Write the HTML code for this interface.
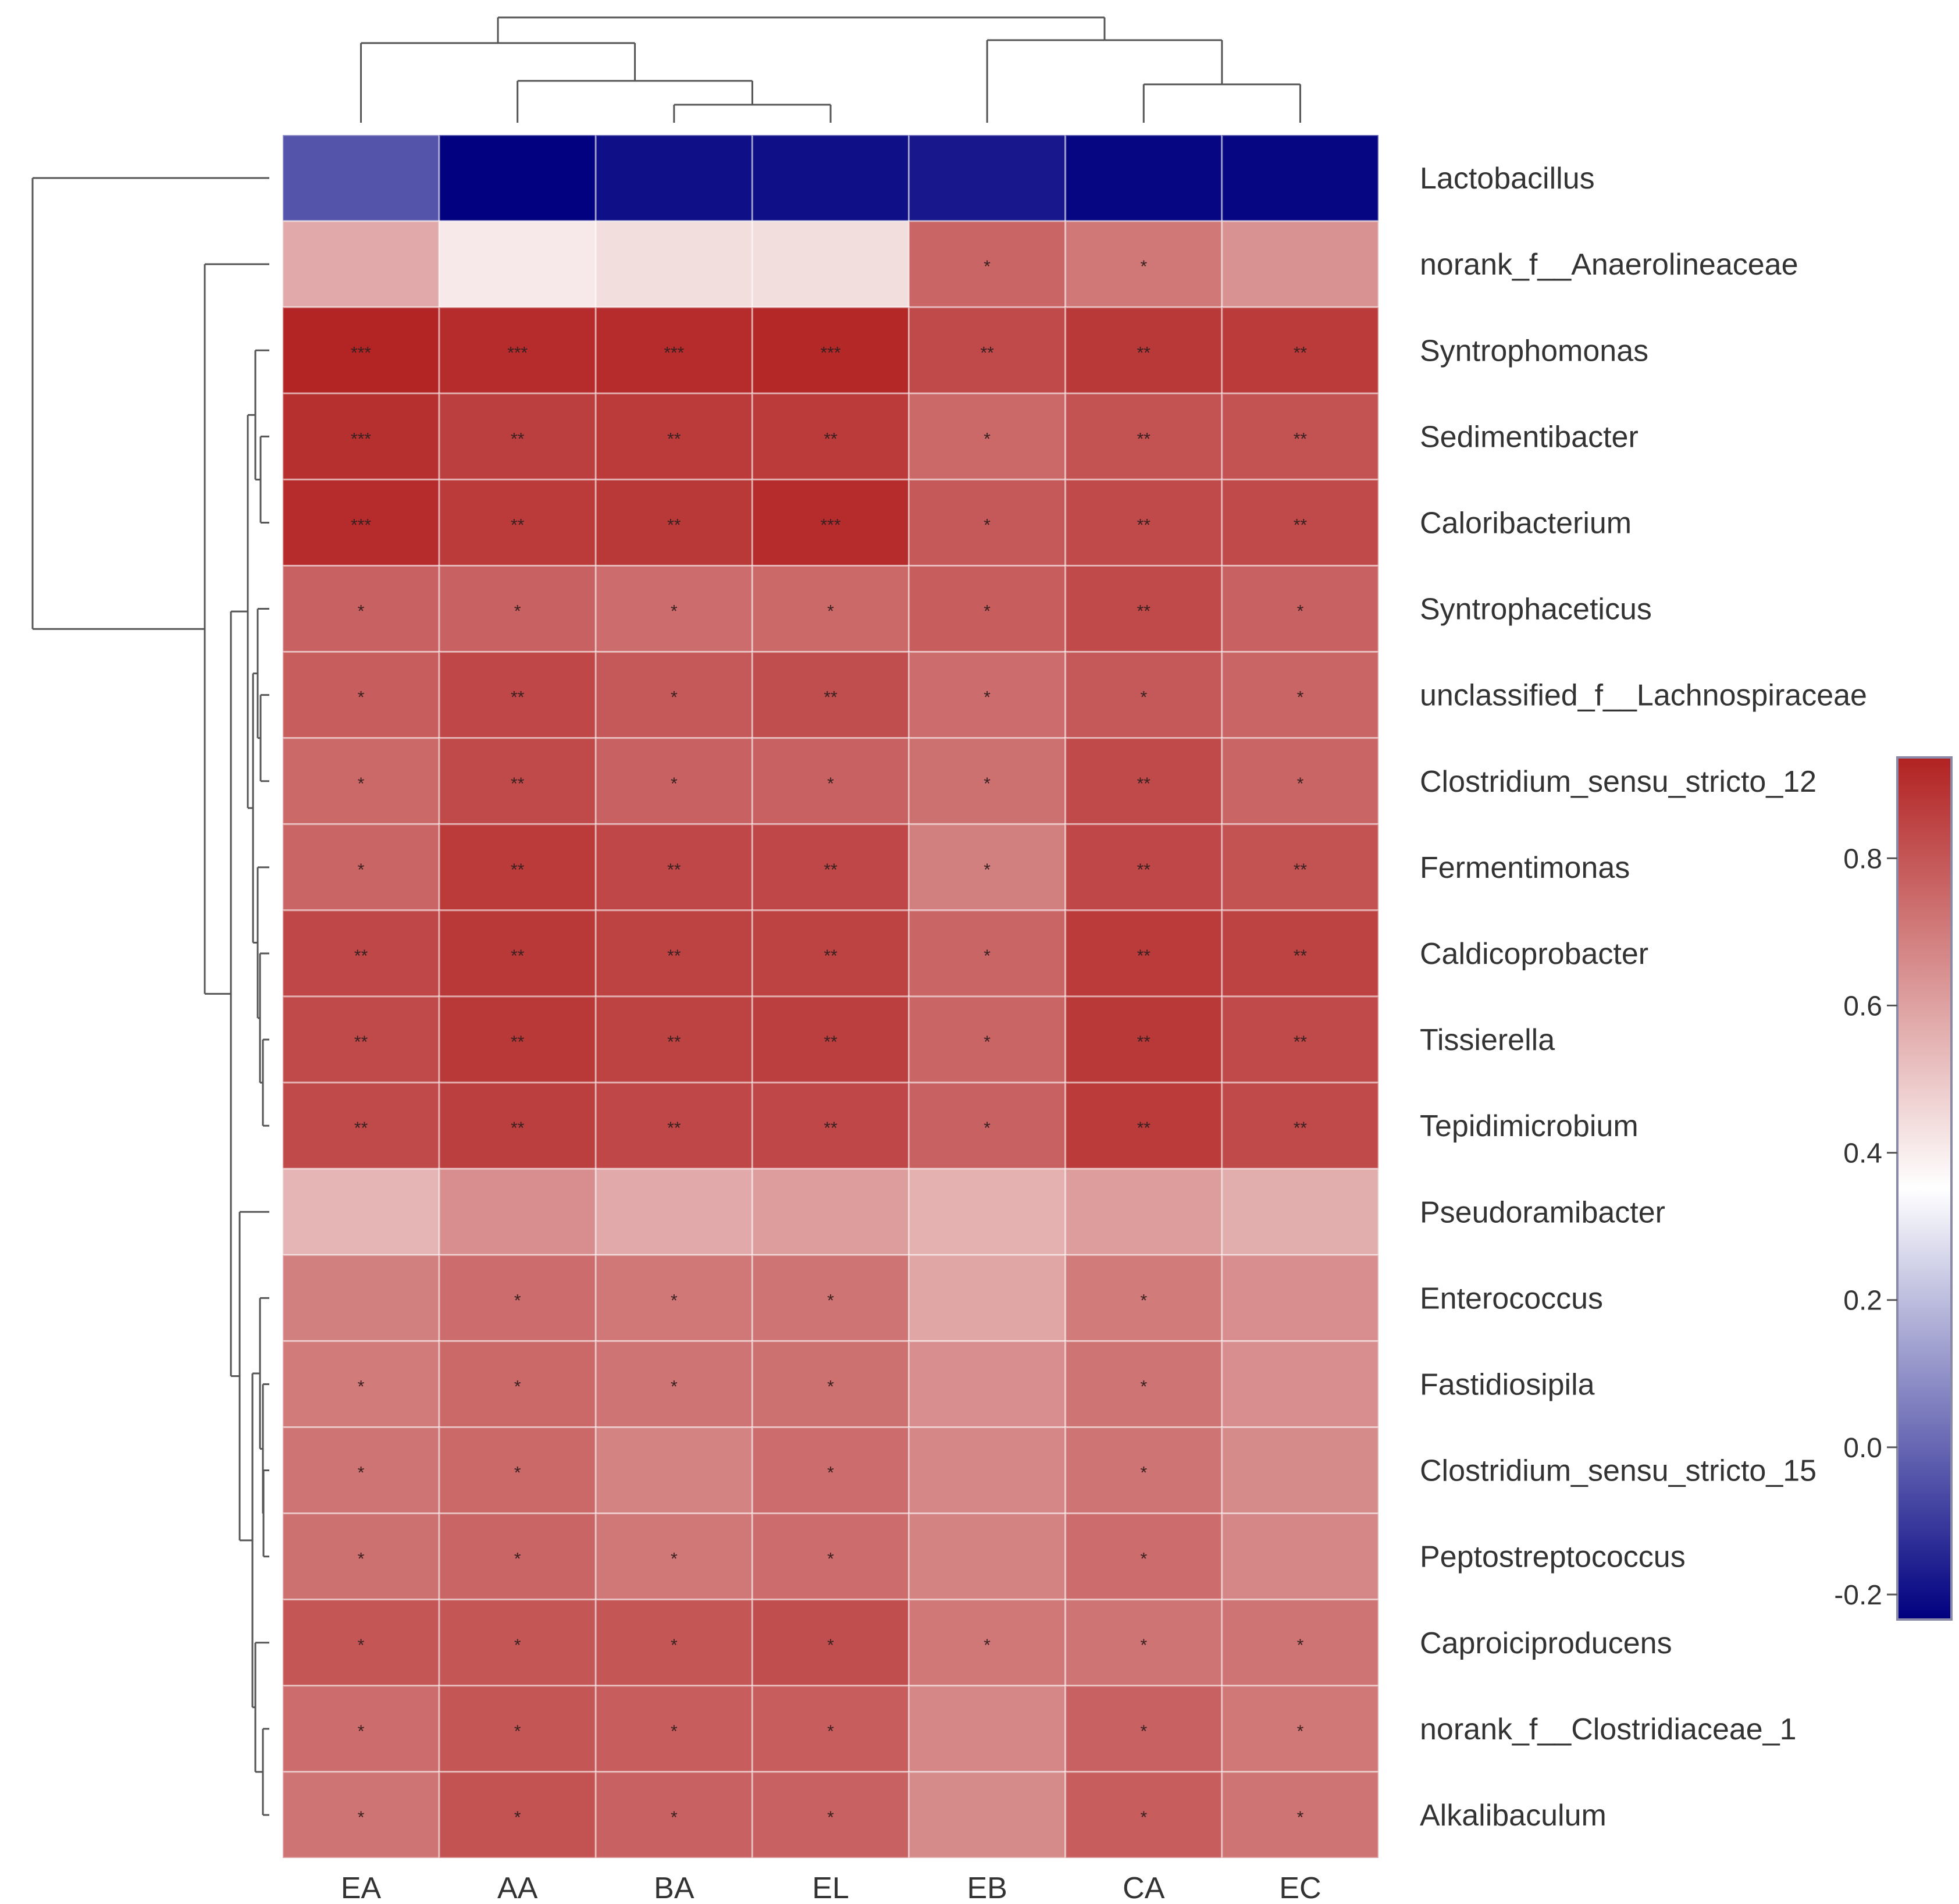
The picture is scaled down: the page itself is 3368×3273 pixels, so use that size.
<!DOCTYPE html>
<html><head><meta charset="utf-8"><style>
html,body{margin:0;padding:0;background:#fff;}
svg{display:block;font-family:"Liberation Sans",Arial,sans-serif;}
</style></head><body>
<svg id="chart" width="3368" height="3273" viewBox="0 0 3368 3273" xmlns="http://www.w3.org/2000/svg">
<defs>
<linearGradient id="cbgrad" x1="0" y1="1" x2="0" y2="0">
<stop offset="0" stop-color="#000080"/><stop offset="0.5" stop-color="#ffffff"/><stop offset="1" stop-color="#b22222"/>
</linearGradient>
</defs>
<g id="dendro"></g>
<g id="cells"></g>
<g id="rowlabels"></g>
<g id="collabels"></g>
<g id="colorbar">
<rect x="3262" y="1302" width="93" height="1482" fill="url(#cbgrad)" stroke="#8a8aa8" stroke-width="4"/>
</g>
</svg>
<script>
const columns = ["EA","AA","BA","EL","EB","CA","EC"];
const rows = ["Lactobacillus","norank_f__Anaerolineaceae","Syntrophomonas","Sedimentibacter","Caloribacterium","Syntrophaceticus","unclassified_f__Lachnospiraceae","Clostridium_sensu_stricto_12","Fermentimonas","Caldicoprobacter","Tissierella","Tepidimicrobium","Pseudoramibacter","Enterococcus","Fastidiosipila","Clostridium_sensu_stricto_15","Peptostreptococcus","Caproiciproducens","norank_f__Clostridiaceae_1","Alkalibaculum"];
const values = [
[-0.04,-0.23,-0.20,-0.20,-0.18,-0.22,-0.22],
[0.58,0.41,0.44,0.44,0.76,0.71,0.64],
[0.93,0.91,0.91,0.92,0.83,0.88,0.87],
[0.90,0.86,0.87,0.87,0.75,0.81,0.81],
[0.91,0.87,0.88,0.91,0.79,0.83,0.83],
[0.77,0.77,0.74,0.75,0.78,0.83,0.77],
[0.78,0.84,0.79,0.82,0.74,0.79,0.76],
[0.75,0.83,0.77,0.77,0.73,0.83,0.76],
[0.76,0.87,0.84,0.84,0.69,0.84,0.81],
[0.84,0.88,0.85,0.85,0.76,0.87,0.85],
[0.83,0.88,0.85,0.86,0.76,0.88,0.83],
[0.83,0.86,0.84,0.84,0.77,0.87,0.83],
[0.55,0.65,0.58,0.61,0.56,0.61,0.57],
[0.69,0.74,0.71,0.72,0.59,0.70,0.65],
[0.70,0.75,0.72,0.73,0.65,0.72,0.65],
[0.72,0.75,0.68,0.74,0.67,0.72,0.66],
[0.73,0.76,0.71,0.74,0.68,0.74,0.67],
[0.80,0.80,0.80,0.82,0.71,0.72,0.72],
[0.74,0.80,0.78,0.78,0.67,0.77,0.71],
[0.72,0.81,0.77,0.77,0.66,0.78,0.72]
];
const stars = [
["","","","","","",""],
["","","","","*","*",""],
["***","***","***","***","**","**","**"],
["***","**","**","**","*","**","**"],
["***","**","**","***","*","**","**"],
["*","*","*","*","*","**","*"],
["*","**","*","**","*","*","*"],
["*","**","*","*","*","**","*"],
["*","**","**","**","*","**","**"],
["**","**","**","**","*","**","**"],
["**","**","**","**","*","**","**"],
["**","**","**","**","*","**","**"],
["","","","","","",""],
["","*","*","*","","*",""],
["*","*","*","*","","*",""],
["*","*","","*","","*",""],
["*","*","*","*","","*",""],
["*","*","*","*","*","*","*"],
["*","*","*","*","","*","*"],
["*","*","*","*","","*","*"]
];
const cbTicks = [-0.2,0.0,0.2,0.4,0.6,0.8];
const vmin = -0.234, vmax = 0.937;

const NS = "http://www.w3.org/2000/svg";
const X0=486, X1=2370, Y0=232, Y1=3194;
const cw=(X1-X0)/columns.length, rh=(Y1-Y0)/rows.length;
function colX(j){return X0+cw*j;}
function rowY(i){return Y0+rh*i;}
function mk(tag,attrs,parent){const e=document.createElementNS(NS,tag);for(const k in attrs)e.setAttribute(k,attrs[k]);parent.appendChild(e);return e;}
function color(v){
  const mid=(vmin+vmax)/2;
  let t;
  if(v>=mid){t=Math.min(1,(v-mid)/(vmax-mid));return `rgb(${Math.round(255-77*t)},${Math.round(255-221*t)},${Math.round(255-221*t)})`;}
  t=Math.min(1,(mid-v)/(mid-vmin));return `rgb(${Math.round(255-255*t)},${Math.round(255-255*t)},${Math.round(255-127*t)})`;
}
const cells=document.getElementById('cells');
rows.forEach((r,i)=>{columns.forEach((c,j)=>{
  const rc=mk('rect',{x:colX(j),y:rowY(i),width:cw,height:rh,fill:color(values[i][j]),stroke:'rgba(255,255,255,0.45)','stroke-width':3},cells);
  
  
  if(stars[i][j]){
    const t=mk('text',{x:colX(j)+cw/2,y:rowY(i)+rh/2+14,'text-anchor':'middle','font-size':30,fill:'#3a2020'},cells);
    t.textContent=stars[i][j];
    
    
  }
});});
const rl=document.getElementById('rowlabels');
rows.forEach((r,i)=>{
  const t=mk('text',{x:2441,y:rowY(i)+rh/2+18,'font-size':52,fill:'#333'},rl);
  t.textContent=r;
  
  
});
const cl=document.getElementById('collabels');
columns.forEach((c,j)=>{
  const t=mk('text',{x:colX(j)+cw/2,y:3263,'text-anchor':'middle','font-size':52,fill:'#333'},cl);
  t.textContent=c;
  
  
});
// colorbar ticks
const cb=document.getElementById('colorbar');
const cbY0=1302, cbY1=2784;
function cbY(v){return cbY1-(v-vmin)/(vmax-vmin)*(cbY1-cbY0);}
cbTicks.forEach(v=>{
  const y=cbY(v);
  const l=mk('line',{x1:3244,x2:3262,y1:y,y2:y,stroke:'#555','stroke-width':3},cb);
  
  
  const t=mk('text',{x:3236,y:y+17,'text-anchor':'end','font-size':48,fill:'#333'},cb);
  t.textContent=v.toFixed(1);
  
  
});
// dendrograms
const dg=document.getElementById('dendro');
function line(x1,y1,x2,y2){
  const l=mk('line',{x1,y1,x2,y2,stroke:'#555','stroke-width':3},dg);
  
  
}
// top: node = leaf index or [left,right,height(y)]
const leafTopY=211;
function drawTop(n){
  if(typeof n==='number') return {x:colX(n)+cw/2,y:leafTopY};
  const a=drawTop(n[0]),b=drawTop(n[1]);const h=n[2];
  line(a.x,a.y,a.x,h);line(b.x,b.y,b.x,h);line(a.x,h,b.x,h);
  return {x:(a.x+b.x)/2,y:h};
}
drawTop([[0,[1,[2,3,180],139],74],[4,[5,6,145],69],30]);
// left: node = leaf row or [a,b,xpos]
const leafLeftX=463;
function drawLeft(n){
  if(typeof n==='number') return {x:leafLeftX,y:rowY(n)+rh/2};
  const a=drawLeft(n[0]),b=drawLeft(n[1]);const xx=n[2];
  line(a.x,a.y,xx,a.y);line(b.x,b.y,xx,b.y);line(xx,a.y,xx,b.y);
  return {x:xx,y:(a.y+b.y)/2};
}
const upper=[[2,[3,4,448],439],[[5,[6,7,448],443],[8,[9,[10,11,452],447],443],435],426];
const lower=[12,[[13,[14,[15,16,453],452],447],[17,[18,19,452],439],434],412];
drawLeft([0,[1,[upper,lower,397],352],56]);
</script>
</body></html>
